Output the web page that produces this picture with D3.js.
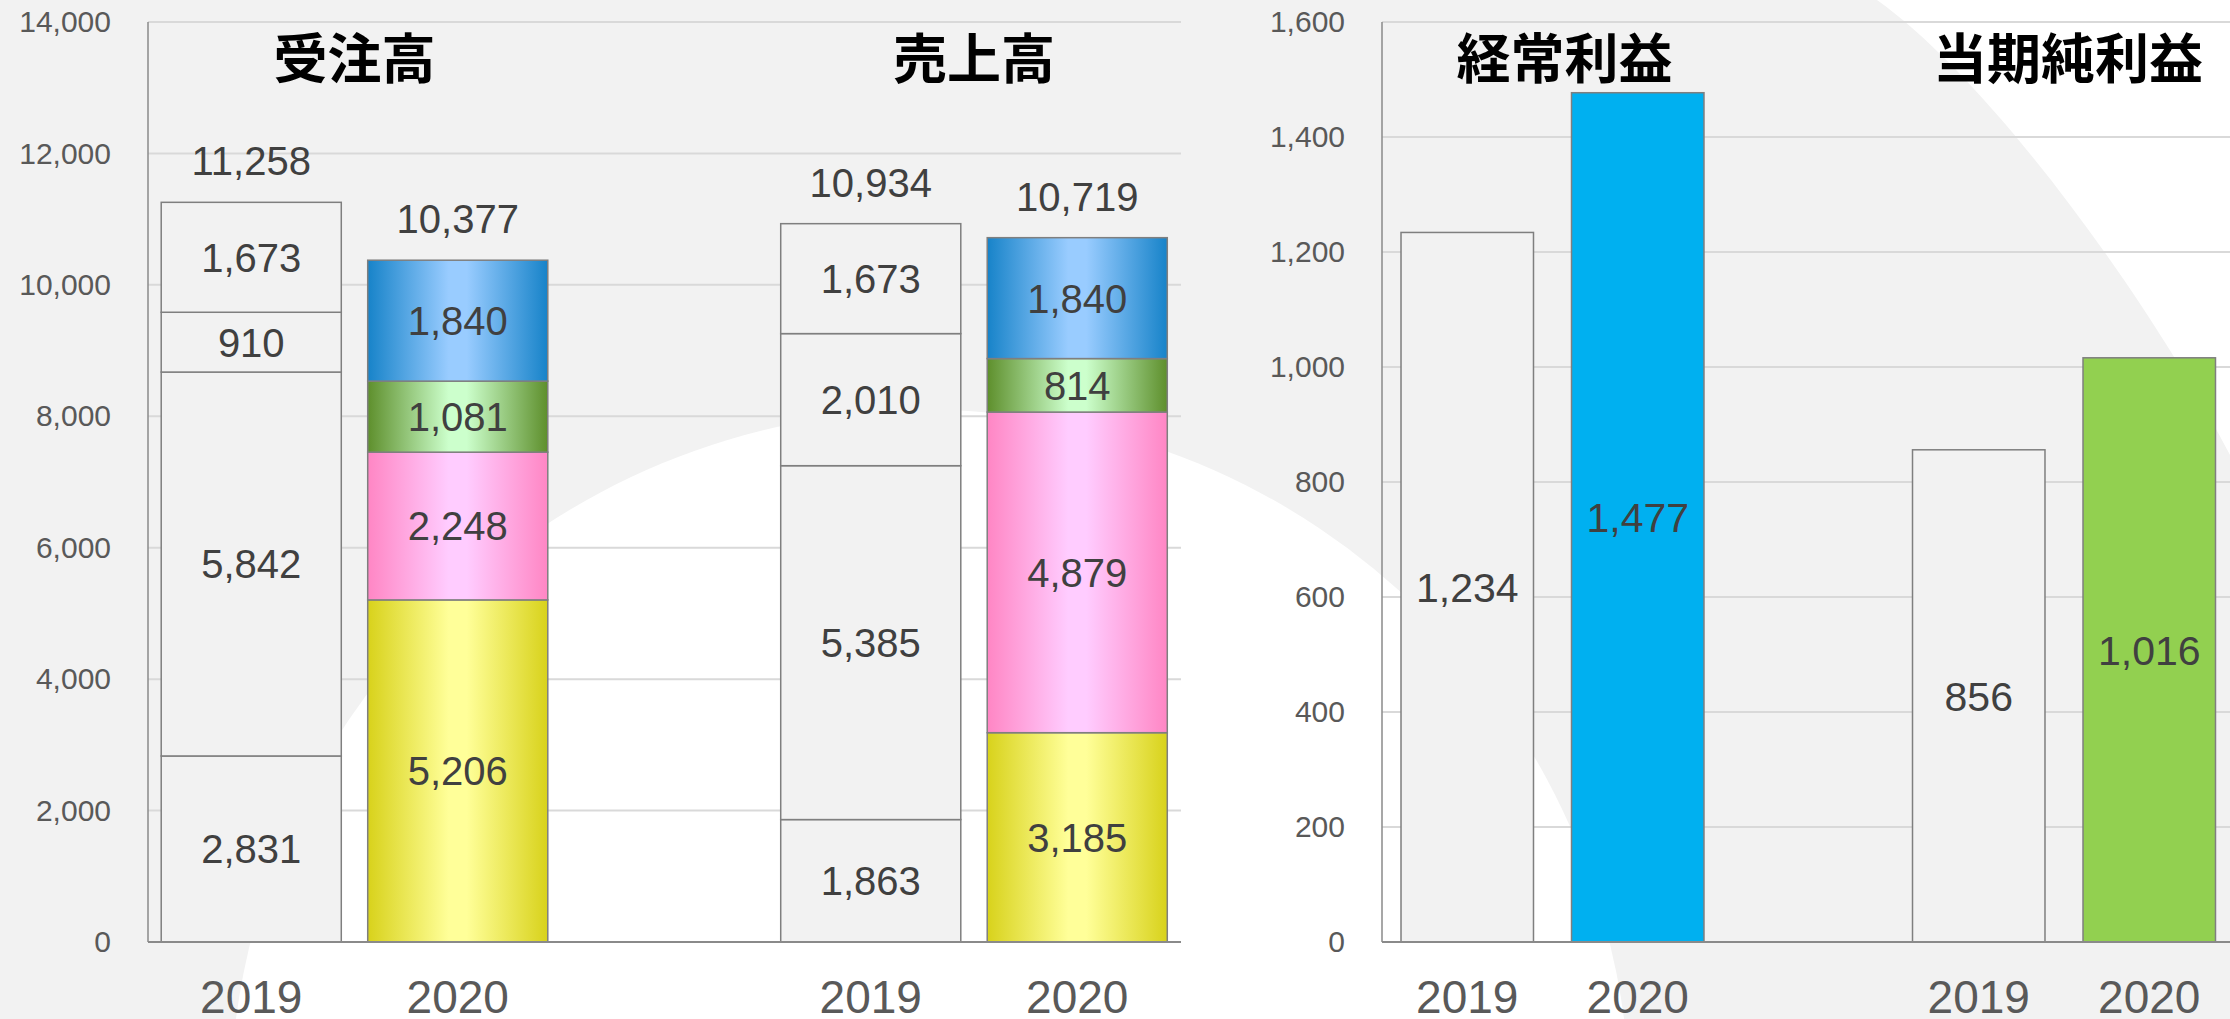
<!DOCTYPE html>
<html>
<head>
<meta charset="utf-8">
<script src="https://cdn.jsdelivr.net/npm/d3@7"></script>
<style>
  body { margin: 0; background: #f2f2f2; }
  svg { display: block; }
</style>
</head>
<body>
<div id="chart"></div>
<script>
// values (million yen)
const years = ["2019", "2020"];
const leftGroups = ["受注高", "売上高"];
const rightGroups = ["経常利益", "当期純利益"];

// stacked segments, bottom to top
const orders2019 = [2831, 5842, 910, 1673];
const orders2020 = [5206, 2248, 1081, 1840];
const sales2019 = [1863, 5385, 2010, 1673];
const sales2020 = [3185, 4879, 814, 1840];
const orderTotals = [11258, 10377];
const salesTotals = [10934, 10719];

const ordinaryProfit = [1234, 1477];
const netProfit = [856, 1016];

const leftTicks = [0, 2000, 4000, 6000, 8000, 10000, 12000, 14000];
const rightTicks = [0, 200, 400, 600, 800, 1000, 1200, 1400, 1600];

const width = 2230
const height = 1019
const fmt = d3.format(",")

const svg = d3.select("#chart").append("svg")
  .attr("width", width)
  .attr("height", height)
  .style("font-family", "'Liberation Sans', Arial, sans-serif")

// gradients for the 2020 segments (bottom to top)
const segColors = [
  { edge: "#d8d21b", mid: "#ffff99" },
  { edge: "#ff86c4", mid: "#ffccff" },
  { edge: "#5e8f2c", mid: "#ccffcc" },
  { edge: "#1783c9", mid: "#99ccff" },
]
const defs = svg.append("defs")
segColors.forEach((c, i) => {
  const g = defs.append("linearGradient").attr("id", "seg" + i)
    .attr("x1", "0%").attr("x2", "100%").attr("y1", "0%").attr("y2", "0%")
  g.append("stop").attr("offset", "0%").attr("stop-color", c.edge)
  g.append("stop").attr("offset", "45%").attr("stop-color", c.mid)
  g.append("stop").attr("offset", "55%").attr("stop-color", c.mid)
  g.append("stop").attr("offset", "100%").attr("stop-color", c.edge)
})

// background: grey with white decorative shapes
svg.append("rect").attr("width", width).attr("height", height).attr("fill", "#f2f2f2")
svg.append("circle").attr("cx", 930).attr("cy", 1110).attr("r", 700).attr("fill", "#ffffff")
svg.append("path").attr("d", "M1877,0 C1990,80 2150,300 2230,455 L2230,0 Z").attr("fill", "#ffffff")

const plotTop = 22, base = 942

// ---------- left panel: 受注高 / 売上高 (stacked) ----------
const leftSlots = [leftGroups[0] + years[0], leftGroups[0] + years[1], "gap", leftGroups[1] + years[0], leftGroups[1] + years[1]]
const xL = d3.scaleBand().domain(leftSlots).range([148, 1180.5]).paddingInner(0.128).paddingOuter(0.064)
const yL = d3.scaleLinear().domain([0, 14000]).range([base, plotTop])

const stackRows = [
  { slot: leftSlots[0], year: years[0], values: orders2019, total: orderTotals[0] },
  { slot: leftSlots[1], year: years[1], values: orders2020, total: orderTotals[1] },
  { slot: leftSlots[3], year: years[0], values: sales2019, total: salesTotals[0] },
  { slot: leftSlots[4], year: years[1], values: sales2020, total: salesTotals[1] },
]

function drawGrid(x0, x1, y, ticks) {
  svg.append("g").selectAll("line")
    .data(ticks.filter(t => t > 0))
    .join("line")
      .attr("x1", x0).attr("x2", x1)
      .attr("y1", d => y(d)).attr("y2", d => y(d))
      .attr("stroke", "#d9d9d9").attr("stroke-width", 2)
}

function drawAxis(x0, x1, y, ticks) {
  const ax = svg.append("g")
    .attr("transform", `translate(${x0},0)`)
    .call(d3.axisLeft(y).tickValues(ticks).tickSize(0).tickPadding(37).tickFormat(fmt))
  ax.select(".domain").remove()
  ax.selectAll("text")
    .attr("fill", "#595959")
    .style("font-size", "30px")
    .style("font-family", "'Liberation Sans', Arial, sans-serif")
  svg.append("line").attr("x1", x0).attr("x2", x0).attr("y1", plotTop).attr("y2", base)
    .attr("stroke", "#8a8a8a").attr("stroke-width", 1.5)
}

drawGrid(148, 1181, yL, leftTicks)

const stack = d3.stack().keys([0, 1, 2, 3]).value((d, k) => d.values[k])
const layers = stack(stackRows)

layers.forEach((layer, k) => {
  const g = svg.append("g")
  g.selectAll("rect")
    .data(layer)
    .join("rect")
      .attr("x", d => xL(d.data.slot))
      .attr("width", xL.bandwidth())
      .attr("y", d => yL(d[1]))
      .attr("height", d => yL(d[0]) - yL(d[1]))
      .attr("fill", d => d.data.year === "2019" ? "#f2f2f2" : `url(#seg${k})`)
      .attr("stroke", "#7f7f7f")
      .attr("stroke-width", 1.5)

  g.selectAll("text")
    .data(layer)
    .join("text")
      .attr("x", d => xL(d.data.slot) + xL.bandwidth() / 2)
      .attr("y", d => (yL(d[0]) + yL(d[1])) / 2)
      .attr("dy", "0.36em")
      .attr("text-anchor", "middle")
      .attr("fill", "#404040")
      .style("font-size", "40px")
      .text(d => fmt(d.data.values[k]))
})

// totals above the stacks
svg.append("g").selectAll("text")
  .data(stackRows)
  .join("text")
    .attr("x", d => xL(d.slot) + xL.bandwidth() / 2)
    .attr("y", d => yL(d3.sum(d.values)) - 27)
    .attr("text-anchor", "middle")
    .attr("fill", "#404040")
    .style("font-size", "40px")
    .text(d => fmt(d.total))

drawAxis(148, 1181, yL, leftTicks)
svg.append("line").attr("x1", 148).attr("x2", 1181).attr("y1", base).attr("y2", base)
  .attr("stroke", "#8a8a8a").attr("stroke-width", 2)

// ---------- right panel: 経常利益 / 当期純利益 ----------
const rightSlots = [rightGroups[0] + years[0], rightGroups[0] + years[1], "gap", rightGroups[1] + years[0], rightGroups[1] + years[1]]
const xR = d3.scaleBand().domain(rightSlots).range([1382, 2234.5]).paddingInner(0.223).paddingOuter(0.1115)
const yR = d3.scaleLinear().domain([0, 1600]).range([base, plotTop])

const profitRows = [
  { slot: rightSlots[0], year: years[0], value: ordinaryProfit[0], color: "#f2f2f2" },
  { slot: rightSlots[1], year: years[1], value: ordinaryProfit[1], color: "#00b0f0" },
  { slot: rightSlots[3], year: years[0], value: netProfit[0], color: "#f2f2f2" },
  { slot: rightSlots[4], year: years[1], value: netProfit[1], color: "#92d050" },
]

drawGrid(1382, width, yR, rightTicks)

svg.append("g").selectAll("rect")
  .data(profitRows)
  .join("rect")
    .attr("x", d => xR(d.slot))
    .attr("width", xR.bandwidth())
    .attr("y", d => yR(d.value))
    .attr("height", d => yR(0) - yR(d.value))
    .attr("fill", d => d.color)
    .attr("stroke", "#7f7f7f")
    .attr("stroke-width", 1.5)

svg.append("g").selectAll("text")
  .data(profitRows)
  .join("text")
    .attr("x", d => xR(d.slot) + xR.bandwidth() / 2)
    .attr("y", d => yR(d.value / 2))
    .attr("dy", "0.36em")
    .attr("text-anchor", "middle")
    .attr("fill", "#404040")
    .style("font-size", "41px")
    .text(d => fmt(d.value))

drawAxis(1382, width, yR, rightTicks)
svg.append("line").attr("x1", 1382).attr("x2", width).attr("y1", base).attr("y2", base)
  .attr("stroke", "#8a8a8a").attr("stroke-width", 2)

// ---------- category labels and titles ----------
const catLabels = [
  ...leftSlots.filter(s => s !== "gap").map(s => ({ x: xL(s) + xL.bandwidth() / 2, text: s.slice(-4) })),
  ...rightSlots.filter(s => s !== "gap").map(s => ({ x: xR(s) + xR.bandwidth() / 2, text: s.slice(-4) })),
]
svg.append("g").selectAll("text")
  .data(catLabels)
  .join("text")
    .attr("x", d => d.x)
    .attr("y", 1013)
    .attr("text-anchor", "middle")
    .attr("fill", "#595959")
    .style("font-size", "46px")
    .text(d => d.text)

const titles = [
  { text: leftGroups[0], x: (xL(leftSlots[0]) + xL(leftSlots[1]) + xL.bandwidth()) / 2 },
  { text: leftGroups[1], x: (xL(leftSlots[3]) + xL(leftSlots[4]) + xL.bandwidth()) / 2 },
  { text: rightGroups[0], x: (xR(rightSlots[0]) + xR(rightSlots[1]) + xR.bandwidth()) / 2 + 12 },
  { text: rightGroups[1], x: (xR(rightSlots[3]) + xR(rightSlots[4]) + xR.bandwidth()) / 2 + 4 },
]
svg.append("g").selectAll("text")
  .data(titles)
  .join("text")
    .attr("x", d => d.x)
    .attr("y", 79)
    .attr("text-anchor", "middle")
    .attr("fill", "#000000")
    .style("font-family", "'Noto Sans CJK JP', sans-serif")
    .style("font-weight", "700")
    .style("font-size", "54px")
    .text(d => d.text)
</script>
</body>
</html>
